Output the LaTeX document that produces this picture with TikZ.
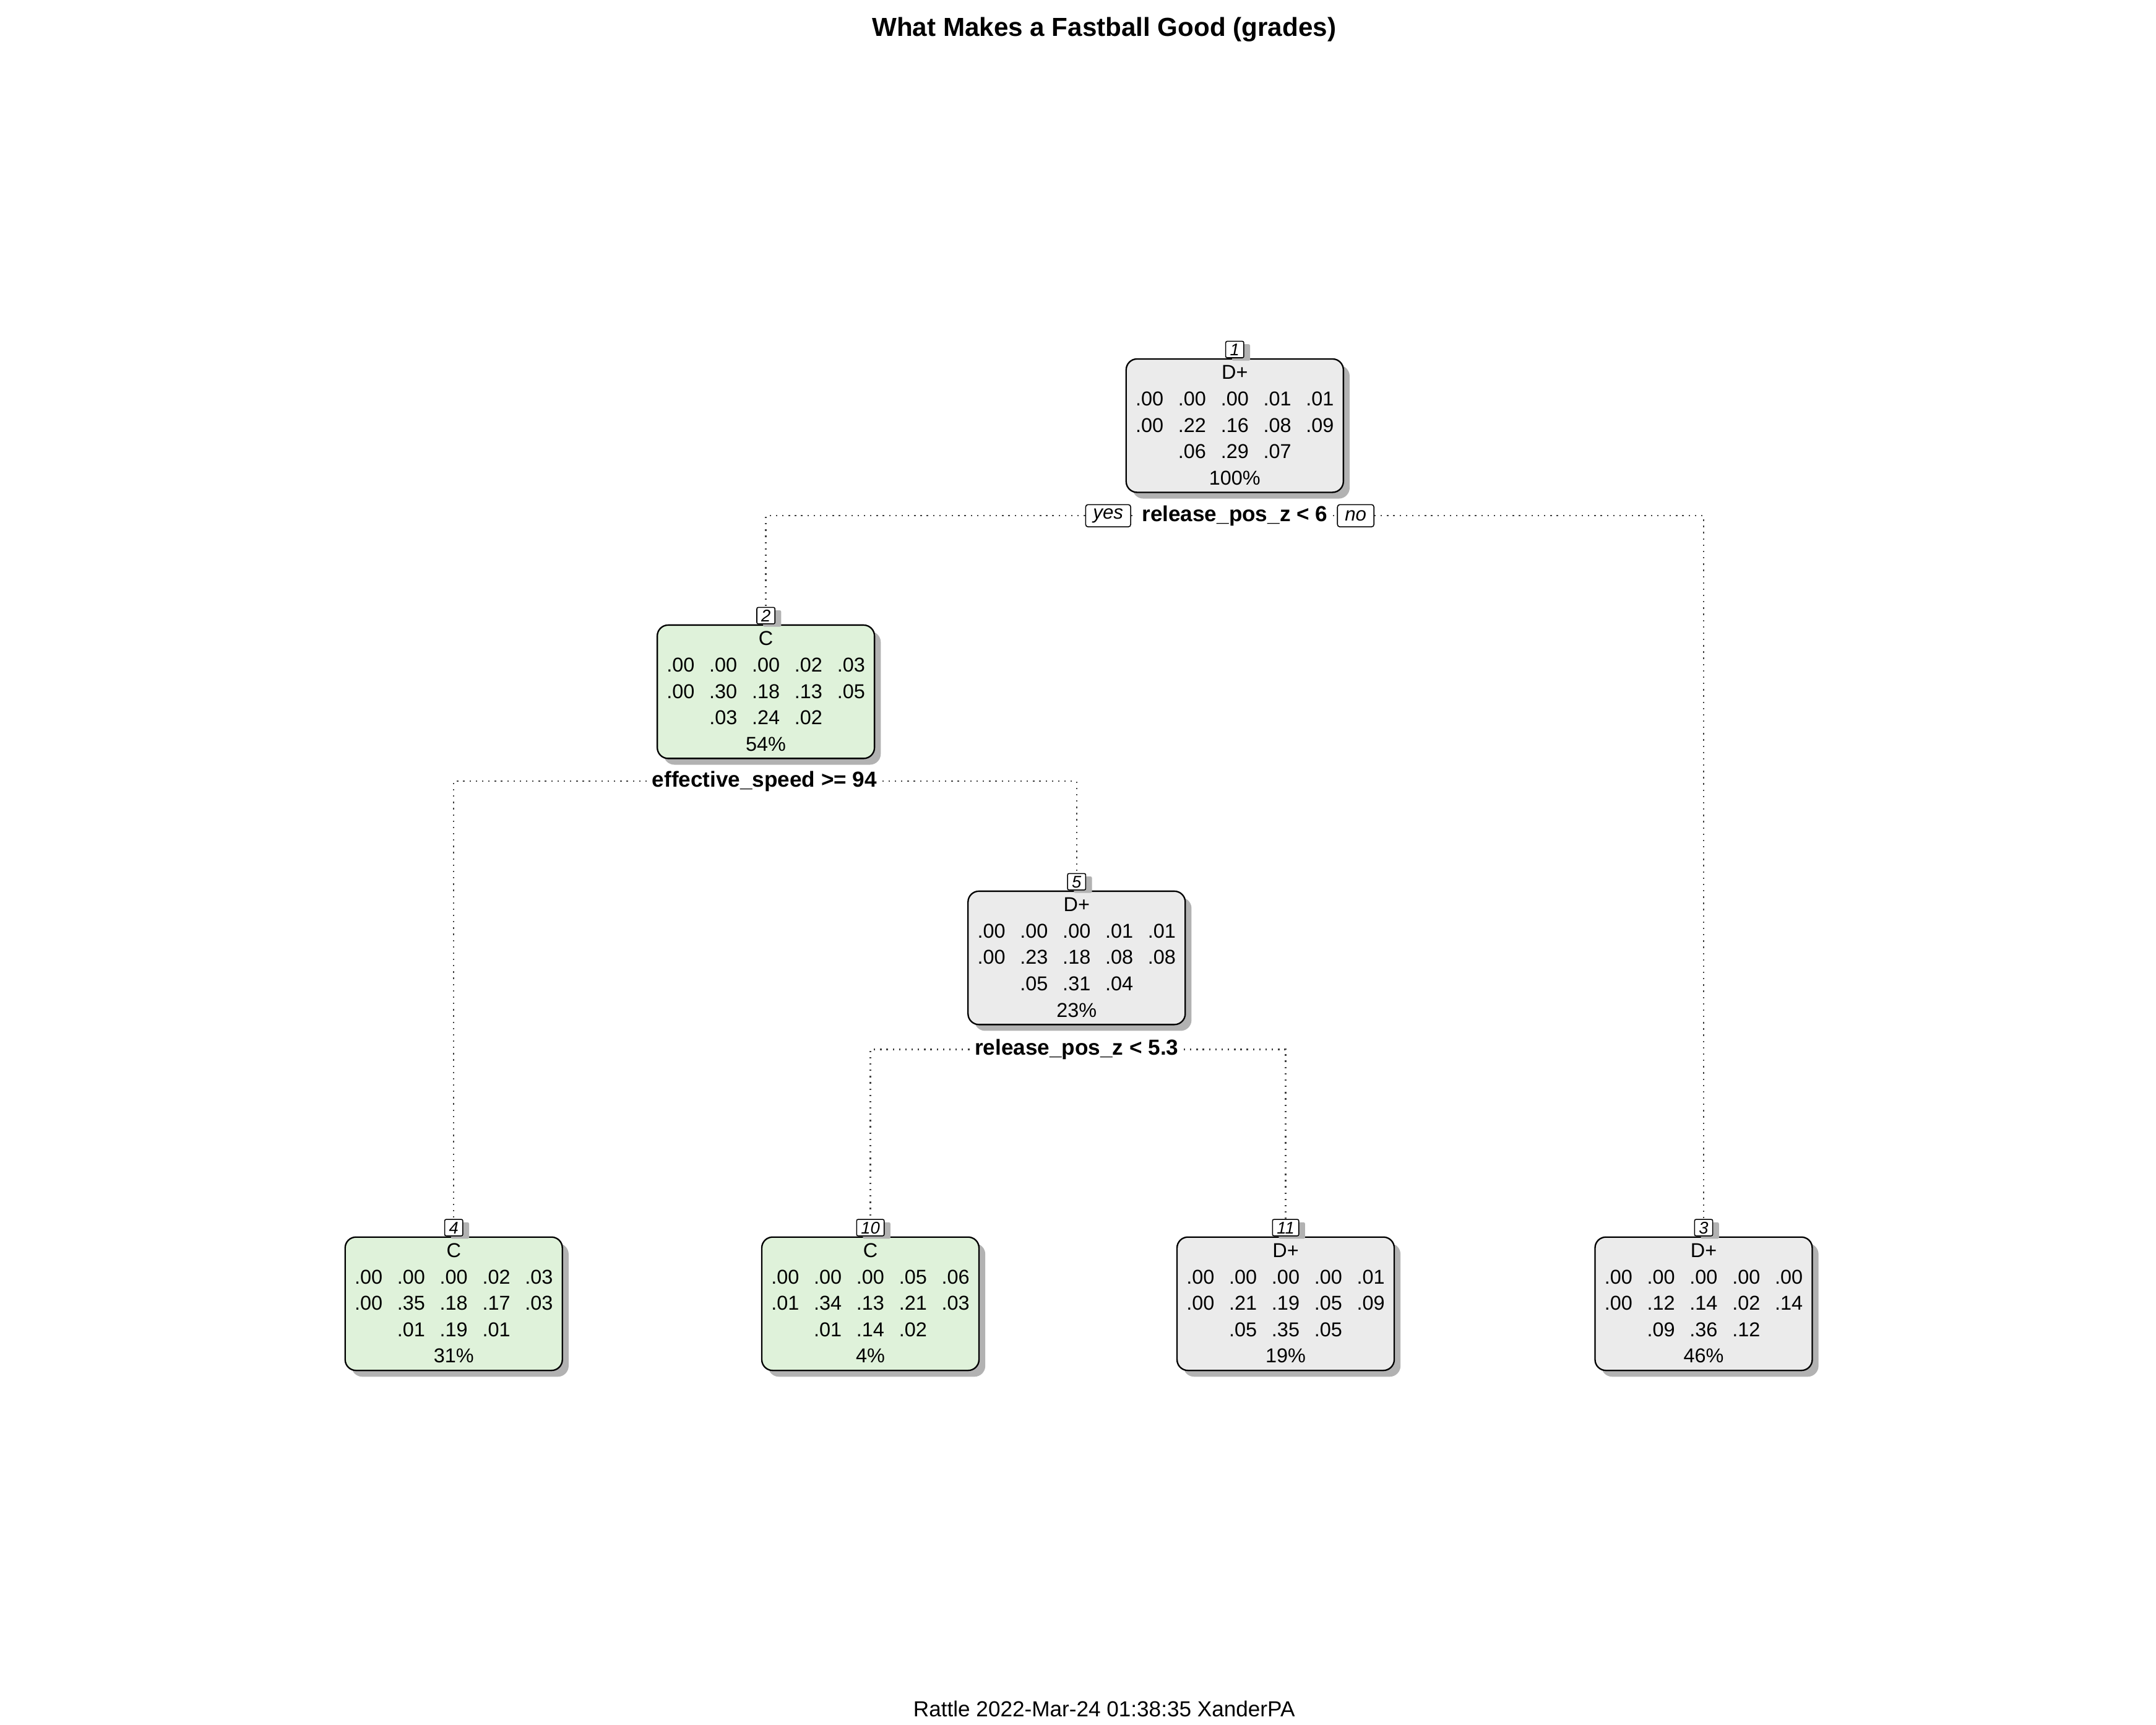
\documentclass[tikz,border=0pt]{standalone}
\usepackage{fontspec}
\usepackage{array}
\setmainfont{Liberation Sans}
\usetikzlibrary{positioning,shadows}
\definecolor{leafgreen}{RGB}{223,242,218}
\definecolor{leafgrey}{RGB}{235,235,235}
\setlength{\extrarowheight}{1.6pt}
\newcommand{\nodetext}[5]{%
  \begin{tabular}{@{}*{4}{c@{\hspace{6.1pt}}}c@{}}
    \multicolumn{5}{@{}c@{}}{#1}\\ #2\\ #3\\ #4\\ \multicolumn{5}{@{}c@{}}{#5}
  \end{tabular}}
\tikzset{
  box/.style={draw, line width=0.6pt, rounded corners=4.5pt, inner sep=0pt,
    minimum width=3.16cm, minimum height=1.94cm,
    font=\fontsize{8.3}{9.3}\selectfont,
    general shadow={fill=black!30, shadow xshift=2.6pt, shadow yshift=-2.6pt}},
  green/.style={box, fill=leafgreen},
  grey/.style={box, fill=leafgrey},
  idx/.style={draw, fill=white, line width=0.4pt, rounded corners=0.6pt,
    inner xsep=1.8pt, inner ysep=0.85pt, text height=5.1pt, text depth=0pt,
    font=\fontsize{7}{8}\itshape,
    general shadow={fill=black!30, shadow xshift=2.6pt, shadow yshift=-1.2pt}},
  split/.style={inner xsep=2pt, inner ysep=0pt, font=\fontsize{9}{10}\bfseries},
  yesno/.style={draw, fill=white, line width=0.4pt, rounded corners=1pt,
    inner xsep=3.1pt, inner ysep=0pt, minimum height=9.2pt,
    font=\fontsize{8}{9}\itshape},
  edge/.style={black!75, line width=0.6pt, dash pattern=on 0.6pt off 2pt}
}
\begin{document}
\begin{tikzpicture}[x=0.02cm, y=-0.02cm]
  \useasboundingbox (0,0) rectangle (1568,1254);
  \node[font=\fontsize{10.8}{12}\bfseries] (title) at (803,21.5) {What Makes a Fastball Good (grades)};
  \node[font=\fontsize{9}{10}\selectfont] (footer) at (803,1242.5) {Rattle 2022-Mar-24 01:38:35 XanderPA};
  \path
    (898,309.5) node[grey] (1) {\nodetext{D+}{.00&.00&.00&.01&.01}{.00&.22&.16&.08&.09}{&.06&.29&.07&}{100\%}}
    (557,503) node[green] (2) {\nodetext{C}{.00&.00&.00&.02&.03}{.00&.30&.18&.13&.05}{&.03&.24&.02&}{54\%}}
    (783,696.5) node[grey] (5) {\nodetext{D+}{.00&.00&.00&.01&.01}{.00&.23&.18&.08&.08}{&.05&.31&.04&}{23\%}}
    (330,948) node[green] (4) {\nodetext{C}{.00&.00&.00&.02&.03}{.00&.35&.18&.17&.03}{&.01&.19&.01&}{31\%}}
    (633,948) node[green] (10) {\nodetext{C}{.00&.00&.00&.05&.06}{.01&.34&.13&.21&.03}{&.01&.14&.02&}{4\%}}
    (935,948) node[grey] (11) {\nodetext{D+}{.00&.00&.00&.00&.01}{.00&.21&.19&.05&.09}{&.05&.35&.05&}{19\%}}
    (1239,948) node[grey] (3) {\nodetext{D+}{.00&.00&.00&.00&.00}{.00&.12&.14&.02&.14}{&.09&.36&.12&}{46\%}};
  \foreach \n in {1,2,3,4,5,10,11}
    \node[idx, above=0pt of \n] (i\n) {\n};
  \node[split] (s1) at (898,375) {release\_pos\_z < 6};
  \node[yesno, left=0.08cm of s1] (yes) {yes};
  \node[yesno, right=0.06cm of s1] (no) {no};
  \node[split] (s2) at (556,568) {effective\_speed >= 94};
  \node[split] (s5) at (783,763) {release\_pos\_z < 5.3};
  \begin{scope}[edge]
    \draw (yes.east) -- (s1.west);
    \draw (s1.east) -- (no.west);
    \draw (yes.west) -| (i2.north);
    \draw (no.east) -| (i3.north);
    \draw (s2.west) -| (i4.north);
    \draw (s2.east) -| (i5.north);
    \draw (s5.west) -| (i10.north);
    \draw (s5.east) -| (i11.north);
  \end{scope}
\end{tikzpicture}
\end{document}
